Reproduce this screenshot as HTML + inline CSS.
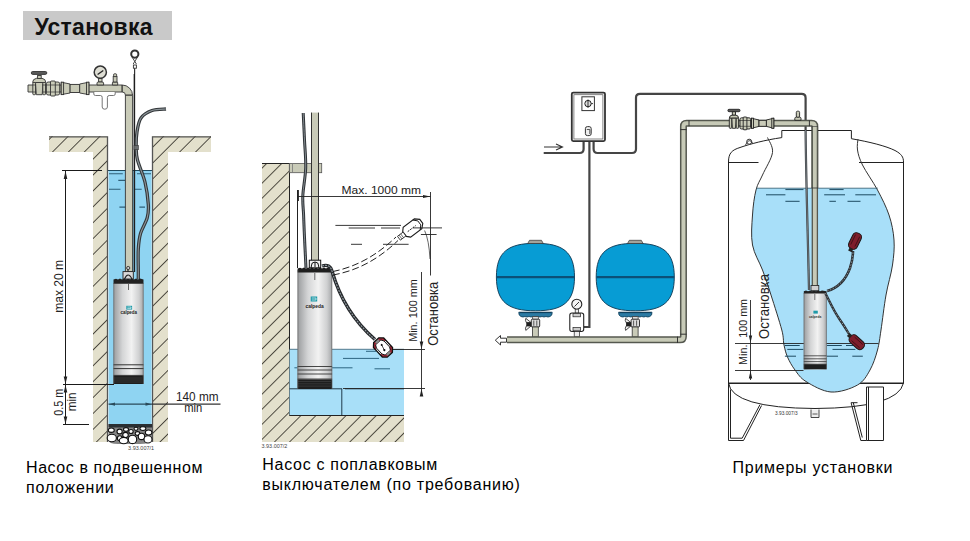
<!DOCTYPE html>
<html><head><meta charset="utf-8">
<style>
html,body{margin:0;padding:0;background:#fff;width:970px;height:541px;overflow:hidden}
svg{position:absolute;left:0;top:0;display:block}
text{font-family:"Liberation Sans",sans-serif}
</style></head>
<body>
<svg width="970" height="541" viewBox="0 0 970 541">
<defs>
  <pattern id="hatch" patternUnits="userSpaceOnUse" width="11.243" height="11.243" patternTransform="rotate(45) translate(9.19,0)">
    <rect width="11.243" height="11.243" fill="#e3e0cc"/>
    <line x1="0" y1="-1" x2="0" y2="13" stroke="#1e1b14" stroke-width="1.5"/>
  </pattern>
  <pattern id="hatch2" patternUnits="userSpaceOnUse" width="10.656" height="10.656" patternTransform="rotate(45) translate(5.3,0)">
    <rect width="10.656" height="10.656" fill="#e3e0cc"/>
    <line x1="0" y1="-1" x2="0" y2="12" stroke="#1e1b14" stroke-width="1.5"/>
  </pattern>
  <linearGradient id="pumpg" x1="0" x2="1" y1="0" y2="0">
    <stop offset="0" stop-color="#9a9c9e"/>
    <stop offset="0.3" stop-color="#d4d5d6"/>
    <stop offset="0.6" stop-color="#f2f2f2"/>
    <stop offset="0.85" stop-color="#cfd0d1"/>
    <stop offset="1" stop-color="#a4a6a8"/>
  </linearGradient>
</defs>

<!-- Title -->
<rect x="23" y="11" width="149" height="29" fill="#c9c9c9"/>
<text x="34.5" y="35" font-size="23" font-weight="bold" fill="#111" textLength="118" lengthAdjust="spacing">Установка</text>

<!-- LEFT DIAGRAM -->
<g id="left">
  <!-- ground -->
  <path d="M49 136H108V442H93V152H49Z" fill="url(#hatch)"/>
  <path d="M152 136H211V152H168V442H152Z" fill="url(#hatch)"/>
  <path d="M49 136.8H107.5V442" fill="none" stroke="#555" stroke-width="1.3"/>
  <path d="M211 136.8H152.5V442" fill="none" stroke="#555" stroke-width="1.3"/>
  <!-- water -->
  <rect x="108.6" y="170" width="43" height="254" fill="#8fd4f2"/>
  <line x1="108" y1="170.5" x2="152" y2="170.5" stroke="#1f4a5e" stroke-width="1"/>
  <g stroke="#2f5f78" stroke-width="1.1">
    <path d="M109 173.8H122.8M137 173.8H151M118.3 180.4H125M109 189.3H120.5M135 189.3H141.7M119.4 207.1H128M139.4 207.1H145"/>
  </g>
  <!-- gravel -->
  <path d="M108.5 424H152V440Q150 444 140 444H118Q108.5 444 108.5 440Z" fill="#858585"/>
  <path d="M108.5 424H152V427.5H108.5Z" fill="#2a2f33"/>
  <g fill="#fff" stroke="#111" stroke-width="1.1">
    <ellipse cx="111.3" cy="430.2" rx="3" ry="2.2"/>
    <ellipse cx="119.6" cy="431.5" rx="2.6" ry="2.4"/>
    <ellipse cx="126" cy="429.4" rx="2.5" ry="1.8"/>
    <ellipse cx="131" cy="431.5" rx="2.2" ry="2"/>
    <ellipse cx="136" cy="428.8" rx="2" ry="1.6"/>
    <ellipse cx="142.9" cy="428.6" rx="3" ry="1.9"/>
    <ellipse cx="148.6" cy="432.5" rx="3.3" ry="2.5"/>
    <ellipse cx="137.5" cy="433.5" rx="2.3" ry="1.9"/>
    <ellipse cx="125.5" cy="435" rx="2.8" ry="2.6"/>
    <ellipse cx="111.8" cy="438" rx="4.6" ry="3.8"/>
    <ellipse cx="119.8" cy="438.3" rx="2.4" ry="2.5"/>
    <ellipse cx="141.5" cy="436.4" rx="3.2" ry="3.2"/>
    <ellipse cx="123.7" cy="440.6" rx="4.4" ry="3.2"/>
    <ellipse cx="132.5" cy="439.4" rx="4.2" ry="4.2"/>
    <ellipse cx="148" cy="439.4" rx="4" ry="3.6"/>
  </g>
  <!-- top pipework -->
  <g stroke="#333" stroke-width="0.9" fill="#c9cbb8">
    <path d="M28 85H122.1A10.5 10.5 0 0 1 132.6 95.5V272H125.4V95Q125.4 92 122.1 92H28Z"/>
    <!-- elbow seam -->
    <path d="M122.1 85V92M125.4 95.2H132.6" fill="none" stroke-width="1.3"/>
    <!-- gate valve -->
    <path d="M32.6 82.5Q32.6 79 36.5 78.3H42Q45.8 79 45.8 82.5Z"/>
    <rect x="37.6" y="75.5" width="3.6" height="3" />
    <rect x="31.3" y="71.5" width="15.5" height="2.9" rx="1.4" fill="#5a5a5a"/>
    <path d="M35.5 82.5H43L42.2 94.7H36.3Z"/>
    <rect x="32.8" y="82.5" width="2.7" height="12.2" rx="0.8"/>
    <rect x="42.8" y="82.5" width="2.7" height="12.2" rx="0.8"/>
    <path d="M32.8 85H35.5M32.8 92H35.5M42.8 85H45.5M42.8 92H45.5" fill="none" stroke-width="0.7"/>
    <!-- union -->
    <rect x="46.4" y="82" width="13.3" height="13" rx="1.8"/>
    <rect x="50.5" y="81" width="4.8" height="15" rx="1"/>
    <path d="M46.4 85H59.7M46.4 92H59.7" fill="none" stroke-width="0.7"/>
    <!-- reducers -->
    <path d="M61.2 82.2L70.1 84V93L61.2 94.6Z"/>
    <rect x="61.2" y="82.2" width="2.4" height="12.4"/>
    <rect x="70.1" y="84.4" width="9.6" height="8.1"/>
    <path d="M79.7 84L88.9 82.2V94.6L79.7 93Z"/>
    <rect x="86.5" y="82.2" width="2.4" height="12.4"/>
    <!-- gauge -->
    <rect x="98.6" y="78.5" width="3.4" height="3.5"/>
    <path d="M97 85V83Q97 82 98.5 82H102Q103.6 82 103.6 83V85Z"/>
    <circle cx="100.3" cy="72.2" r="6.1" fill="#deded4" stroke-width="1.5"/>
    <path d="M97.6 74.6L103.3 70.4" fill="none" stroke="#222" stroke-width="1.2"/>
    <!-- vent -->
    <path d="M112.4 85V82.8Q112.4 82 113.4 82H116.7Q117.7 82 117.7 82.8V85Z"/>
    <rect x="113.2" y="76.5" width="3.8" height="5.5"/>
    <rect x="113.6" y="73.8" width="3" height="2.8" rx="0.8"/>
  </g>
  <!-- T under pipe -->
  <path d="M93.8 92V94Q93.8 95.5 95.5 95.5H100.5Q102.2 95.5 102.2 97.5V107Q102.2 109.2 104.8 109.2Q107.4 109.2 107.4 107V97.5Q107.4 95.5 109.2 95.5H113.5Q115.2 95.5 115.2 94V92" fill="#fff" stroke="#666" stroke-width="0.9"/>
  <!-- rope -->
  <g fill="none" stroke="#333">
    <circle cx="134.8" cy="54.1" r="3.6" stroke-width="2"/>
    <path d="M132 57L136.4 64M137.6 57L133.2 64" stroke-width="0.9"/>
    <rect x="133.4" y="65" width="3" height="3.2" stroke-width="0.9"/>
    <path d="M134.6 68.2V74" stroke-width="1.2"/>
    <path d="M134.4 74V272" stroke-width="1.5" stroke="#1e1e1e"/>
  </g>
  <!-- cable -->
  <path d="M166.0 109.0C163.7 109.2 156.2 109.0 152.0 110.5C147.8 112.0 143.5 114.4 141.0 118.0C138.5 121.6 137.8 127.1 137.0 132.0C136.2 136.9 136.1 142.6 136.2 147.3C136.3 152.0 136.0 154.2 137.5 160.0C139.0 165.8 143.2 174.8 145.0 182.2C146.8 189.6 147.9 198.5 148.3 204.4C148.7 210.3 148.5 213.0 147.2 217.8C145.9 222.6 142.1 228.1 140.6 233.3C139.1 238.5 138.7 242.6 138.3 248.9C137.9 255.2 138.3 266.0 138.3 271.0C138.3 276.0 138.3 277.7 138.3 279.0" fill="none" stroke="#33373a" stroke-width="3.3"/>
  <path d="M166.0 109.0C163.7 109.2 156.2 109.0 152.0 110.5C147.8 112.0 143.5 114.4 141.0 118.0C138.5 121.6 137.8 127.1 137.0 132.0C136.2 136.9 136.1 142.6 136.2 147.3C136.3 152.0 136.0 154.2 137.5 160.0C139.0 165.8 143.2 174.8 145.0 182.2C146.8 189.6 147.9 198.5 148.3 204.4C148.7 210.3 148.5 213.0 147.2 217.8C145.9 222.6 142.1 228.1 140.6 233.3C139.1 238.5 138.7 242.6 138.3 248.9C137.9 255.2 138.3 266.0 138.3 271.0C138.3 276.0 138.3 277.7 138.3 279.0" fill="none" stroke="#8c9498" stroke-width="1.1"/>
  <rect x="134" y="145.5" width="4.4" height="4.2" fill="#6a6e70" stroke="#333" stroke-width="0.6"/>

  <!-- pump -->
  <rect x="113.5" y="283" width="30" height="101" fill="url(#pumpg)"/>
  <path d="M113.5 283V279.5L116 278.8 118 279.5 120 278.6 122 279.5 124 278.6 126 279.5 128 278.6 130 279.5 132 278.6 134 279.5 136 278.6 138 279.5 140 278.6 143.5 279.5V283.8H113.5Z" fill="#222"/>
  <rect x="123" y="271.6" width="10.3" height="7.4" fill="#d8d8d8" stroke="#222" stroke-width="0.9"/>
  <path d="M124.5 279Q128 271 132 279M128 271.5V268" stroke="#222" stroke-width="1.2" fill="none"/>
  <circle cx="128.2" cy="268" r="1.6" fill="#ccc" stroke="#222" stroke-width="0.8"/>
  <line x1="128.5" y1="284" x2="128.5" y2="290" stroke="#666" stroke-width="1"/>
  <rect x="113.5" y="364.5" width="30" height="11" fill="url(#pumpg)"/>
  <path d="M113.5 364.8H143.5M113.5 368.6H143.5M113.5 375.4H143.5" stroke="#333" stroke-width="1"/>
  <rect x="113.5" y="376" width="30" height="8" fill="#1e1e1e"/>
  <path d="M114.5 378H142.5M114.5 380H142.5M114.5 382H142.5" stroke="#666" stroke-width="0.7" stroke-dasharray="1 1"/>
  <path d="M113.8 283V384M143.2 283V384" stroke="#555" stroke-width="0.6"/>
  <rect x="126.3" y="305.8" width="5.8" height="3.8" fill="#1f9aa8"/>
  <path d="M127.3 307H131V308.6H127.3" fill="none" stroke="#fff" stroke-width="0.6"/>
  <text x="120.5" y="314.2" font-size="4.6" font-weight="bold" fill="#222" textLength="16.5" lengthAdjust="spacingAndGlyphs">calpeda</text>
  <!-- dimensions -->
  <g stroke="#1a1a1a" stroke-width="1" fill="none">
    <path d="M65.5 170V424"/>
    <path d="M62 170.5H102M63 384.5H114M63 424.5H89"/>
    <path d="M152 404.2H220.5" stroke="#333" stroke-width="1.2"/>
    <path d="M108.5 404.2H152" stroke="#2a4a5a" stroke-width="1.2"/>
  </g>
  <g fill="#222">
    <path d="M65.5 171L63.7 179H67.3Z"/>
    <path d="M65.5 384L63.7 376.5H67.3Z"/>
    <path d="M65.5 385L63.7 392.5H67.3Z"/>
    <path d="M65.5 424L63.7 416.5H67.3Z"/>
    <path d="M109 404.2L115 402.6V405.8Z" fill="#2a4a5a"/>
    <path d="M151.5 404.2L145.5 402.6V405.8Z" fill="#2a4a5a"/>
  </g>
  <g font-size="12" fill="#222">
    <text transform="translate(63.2,312.8) rotate(-90)" textLength="52.8" lengthAdjust="spacingAndGlyphs">max 20 m</text>
    <text transform="translate(62.5,415.7) rotate(-90)" textLength="27" lengthAdjust="spacingAndGlyphs">0.5 m</text>
    <text transform="translate(75.8,411.3) rotate(-90)" textLength="18.8" lengthAdjust="spacingAndGlyphs">min</text>
    <text x="176" y="400.7" textLength="42.5" lengthAdjust="spacingAndGlyphs">140 mm</text>
    <text x="184.2" y="412.4" textLength="18" lengthAdjust="spacingAndGlyphs">min</text>
  </g>
  <text x="128.1" y="449.6" font-size="5" fill="#444" textLength="26" lengthAdjust="spacingAndGlyphs">3.93.007/1</text>
</g>

<!-- MIDDLE DIAGRAM -->
<g id="mid">
  <!-- wall & floor -->
  <path d="M262 163H289V415H404V442H262Z" fill="url(#hatch2)"/>
  <path d="M262 163.5H289.5V415.5H404" fill="none" stroke="#222" stroke-width="1"/>
  <!-- water -->
  <rect x="289.5" y="349.5" width="114.5" height="65.5" fill="#a8dff8"/>
  <path d="M289.5 349.3H404" stroke="#3d6a82" stroke-width="0.9"/>
  <path d="M289.5 388.8H342M345 388.8H404M341.8 388.8V415" stroke="#1e3a4a" stroke-width="1" fill="none"/>
  <g stroke="#2d6480" stroke-width="1" fill="none">
    <path d="M343 358.4H379M294.4 367.8H352.5M374.5 368.8H390M366 351.3H376"/>
  </g>
  <!-- bracket -->
  <rect x="289.3" y="163.4" width="32.4" height="9.3" fill="#c9cbb8" stroke="#555" stroke-width="0.8"/>
  <line x1="292.5" y1="163.4" x2="292.5" y2="172.7" stroke="#777" stroke-width="0.8"/>
  <!-- pipe -->
  <rect x="311" y="112.6" width="7.8" height="149" fill="#c9cbb8"/>
  <path d="M311.5 112.6V261.6M318.5 112.6V261.6" stroke="#333" stroke-width="1"/>
  <!-- cable -->
  <path d="M303.2 113.0C303.4 117.5 304.1 130.8 304.5 140.0C304.9 149.2 306.0 158.7 305.7 168.0C305.4 177.3 303.1 188.2 302.8 196.0C302.5 203.8 303.4 209.2 303.6 215.0C303.8 220.8 303.9 223.0 304.2 230.8C304.5 238.6 305.4 255.8 305.7 262.0C306.0 268.2 305.9 267.0 306.0 268.0" fill="none" stroke="#2e3236" stroke-width="3"/>
  <path d="M303.2 113.0C303.4 117.5 304.1 130.8 304.5 140.0C304.9 149.2 306.0 158.7 305.7 168.0C305.4 177.3 303.1 188.2 302.8 196.0C302.5 203.8 303.4 209.2 303.6 215.0C303.8 220.8 303.9 223.0 304.2 230.8C304.5 238.6 305.4 255.8 305.7 262.0C306.0 268.2 305.9 267.0 306.0 268.0" fill="none" stroke="#8c9498" stroke-width="0.9"/>
  <!-- thin vertical extension -->
  <path d="M297.5 190V268" stroke="#222" stroke-width="1"/>
  <!-- pump -->
  <rect x="297.6" y="270" width="34.5" height="119" fill="url(#pumpg)"/>
  <path d="M297.6 272.4V268.4L300 267.7 302 268.4 304 267.6 306 268.4 308 267.6 310 268.4 312 267.6 314 268.4 316 267.6 318 268.4 320 267.6 322 268.4 324 267.6 326 268.4 328 267.6 332.1 268.4V272.4H297.6Z" fill="#1e1e1e"/>
  <rect x="309.3" y="260.2" width="11.4" height="7.6" fill="#f2f2f2" stroke="#111" stroke-width="1"/>
  <path d="M311.3 267.8V266Q311.3 262 315 262Q318.7 262 318.7 266V267.8M315 262V267" stroke="#111" stroke-width="1" fill="none"/>
  <line x1="314.8" y1="273" x2="314.8" y2="280" stroke="#666" stroke-width="1"/>
  <rect x="297.6" y="366" width="34.5" height="13.5" fill="url(#pumpg)"/>
  <path d="M297.6 366.5H332.1M297.6 370H332.1M297.6 374H332.1M297.6 379H332.1" stroke="#333" stroke-width="0.9"/>
  <rect x="297.6" y="379.4" width="34.5" height="9.6" fill="#1e1e1e"/>
  <path d="M298.5 381.5H331M298.5 383.8H331M298.5 386.1H331" stroke="#666" stroke-width="0.7" stroke-dasharray="1 1"/>
  <path d="M297.9 270V389M331.8 270V389" stroke="#555" stroke-width="0.6"/>
  <rect x="310.7" y="296.5" width="6.5" height="5" fill="#1f9aa8"/>
  <path d="M311.8 298H316V300H311.8" fill="none" stroke="#fff" stroke-width="0.6"/>
  <text x="305.5" y="307.8" font-size="5.2" font-weight="bold" fill="#222" textLength="18.2" lengthAdjust="spacingAndGlyphs">calpeda</text>
  <!-- float cable (lower) -->
  <path d="M322 266C328 264 331 267 332 271C338 292 350 318 375 339.5" fill="none" stroke="#25282b" stroke-width="3.4"/>
  <path d="M322 266C328 264 331 267 332 271C338 292 350 318 375 339.5" fill="none" stroke="#8d969c" stroke-width="1.2" stroke-dasharray="2 1"/>
  <!-- lower float -->
  <g transform="translate(383,347.5) rotate(47)">
    <path d="M-10 -3.5L-6.5 -7H6.5L10 -3.5V3.5L6.5 7H-6.5L-10 3.5Z" fill="#fff"/>
    <path d="M-10 -3.5L-6.5 -7H-2.5L-10 0.5ZM10 -3.5L6.5 -7H2.5L10 0.5ZM-10 3.5L-6.5 7H-2.5L-10 -0.5ZM10 3.5L6.5 7H2.5L10 -0.5Z" fill="#a82838"/>
    <rect x="-10" y="-2.2" width="2.6" height="4.4" fill="#8a8a8a"/>
    <rect x="7.4" y="-2.2" width="2.6" height="4.4" fill="#8a8a8a"/>
    <path d="M-10 -3.5L-6.5 -7H6.5L10 -3.5V3.5L6.5 7H-6.5L-10 3.5Z" fill="none" stroke="#111" stroke-width="1.3"/>
    <path d="M-7 -3.6L-4 -5.2H4L7 -3.6V3.6L4 5.2H-4L-7 3.6Z" fill="#fff" stroke="#111" stroke-width="0.9"/>
    <circle cx="-2.8" cy="-0.8" r="1" fill="#111"/><circle cx="2.8" cy="0.8" r="1.1" fill="#111"/>
    <path d="M-2.8 -0.8L2.8 0.8" stroke="#111" stroke-width="0.7"/>
  </g>
  <!-- dashed upper float path -->
  <g fill="none" stroke="#222" stroke-width="1" stroke-dasharray="7 3">
    <path d="M333 271.5C350 268 372 260 396 237"/>
    <path d="M333 275C352 271.5 374 263.5 398 240.5"/>
  </g>
  <g transform="translate(412.5,228) rotate(-37)">
    <path d="M-10 -3L-7 -6.2H7L11 -2.5V2.5L7 6.2H-7L-10 3Z" fill="#fff" stroke="#1a1a1a" stroke-width="1.1"/>
    <path d="M5 -6.2L8.5 -2.5V2.5L5 6.2" fill="none" stroke="#1a1a1a" stroke-width="0.9"/>
    <path d="M-6 0H4" stroke="#1a1a1a" stroke-width="0.9" stroke-dasharray="2 1"/>
    <path d="M-17 -2.4H-10V2.4H-17Z" fill="#fff" stroke="#222" stroke-width="0.8"/>
    <path d="M-15 -2.4V2.4M-13 -2.4V2.4" stroke="#222" stroke-width="0.6"/>
  </g>
  <!-- upper water lines -->
  <g stroke="#222" stroke-width="0.9" fill="none">
    <path d="M335.4 225.4H401"/>
    <path d="M348.7 228H375M381 228H400M413 227.9H442M420.9 234.5H436.6M351 244.3H362M383 244.3H408.6"/>
  </g>
  <!-- dimension Max 1000 -->
  <g stroke="#222" stroke-width="0.9" fill="none">
    <path d="M298 196.5H430.5M298.5 190V201M430.5 192V275.5"/>
    <path d="M424.6 230.5Q429 240 430 259" stroke-width="0.7"/>
    <path d="M421.5 272V392"/>
    <path d="M393 349.5H425M343 388.5H425"/>
  </g>
  <path d="M430.5 196.5L423 194.9V198.1Z" fill="#222"/>
  <path d="M421.5 349L419.7 341.5H423.3Z" fill="#222"/>
  <path d="M421.5 389L419.7 396.5H423.3Z" fill="#222"/>
  <text x="341.6" y="193.7" font-size="11" fill="#222" textLength="79.4" lengthAdjust="spacingAndGlyphs">Max. 1000 mm</text>
  <text transform="translate(417,341.8) rotate(-90)" font-size="11" fill="#222" textLength="62.5" lengthAdjust="spacingAndGlyphs">Min. 100 mm</text>
  <text transform="translate(437.5,345.8) rotate(-90)" font-size="14" fill="#222" textLength="64" lengthAdjust="spacingAndGlyphs">Остановка</text>
  <text x="261.6" y="447.8" font-size="5" fill="#444" textLength="25.6" lengthAdjust="spacingAndGlyphs">3.93.007/2</text>
</g>

<!-- RIGHT DIAGRAM -->
<g id="right">
  <!-- control box -->
  <rect x="571.8" y="92.6" width="33.2" height="48.5" rx="1.5" fill="#fff" stroke="#333" stroke-width="1.8"/>
  <rect x="573.9" y="94.7" width="29" height="44.3" fill="none" stroke="#666" stroke-width="0.8"/>
  <rect x="581.9" y="96.8" width="12.5" height="13.8" fill="#fff" stroke="#333" stroke-width="1"/>
  <circle cx="588" cy="103.6" r="3.2" fill="#ddd" stroke="#222" stroke-width="1"/>
  <path d="M588 99.5V107.8M591.2 103.6H593" stroke="#222" stroke-width="0.9"/>
  <rect x="585.4" y="126.6" width="5.8" height="9" rx="2" fill="#eee" stroke="#333" stroke-width="1"/>
  <path d="M586.8 129.5H589.8V134" fill="none" stroke="#333" stroke-width="0.8"/>
  <!-- cables -->
  <g fill="none" stroke="#454545" stroke-width="2.2">
    <path d="M583.6 142V149Q583.6 153 579.6 153H543.7"/>
    <path d="M589.4 142V327H584"/>
    <path d="M593.6 142V149Q593.6 153 597.6 153H632Q636 153 636 149V97.8Q636 93.9 640 93.9H801.6Q805.6 93.9 805.6 97.9V130"/>
  </g>
  <path d="M544 147H562.5M556 144L562.5 147L556 150" fill="none" stroke="#333" stroke-width="1.1"/>

  <!-- tanks -->
  <g id="tank1">
    <path d="M496.4 277C496.4 252 508 243.3 535.5 243.3C563 243.3 574.5 252 574.5 277C574.5 302 563 310.8 535.5 310.8C508 310.8 496.4 302 496.4 277Z" fill="#079cd4" stroke="#0d3550" stroke-width="0.9"/>
    <path d="M496.6 277.1H574.3" stroke="#0b5078" stroke-width="2.4"/>
    <path d="M527.7 243.5L529.5 240.3H541.5L543.3 243.5Z" fill="#a4a49c" stroke="#333" stroke-width="0.7"/>
    <path d="M518.8 312.2H552.2Q552.5 315.5 550 316.5Q548 317.5 546 316.5Q544 317.5 542 316.5Q540 317.5 538 316.5H533Q531 317.5 529 316.5Q527 317.5 525 316.5Q523 317.5 521 316.5Q518.5 315.5 518.8 312.2Z" fill="#2b7aa3" stroke="#123e58" stroke-width="0.8"/>
    <path d="M519.5 312.6H551.5" stroke="#0d3d5a" stroke-width="1"/>
    <rect x="532.7" y="316.7" width="5.6" height="2.6" fill="#e6e6e6" stroke="#333" stroke-width="0.7"/>
    <rect x="531.3" y="319.2" width="8.4" height="7.8" rx="1" fill="#dcdcdc" stroke="#222" stroke-width="0.9"/>
    <path d="M533.8 320.5V325.8M536.8 320.5V325.8" stroke="#333" stroke-width="0.8"/>
    <rect x="532.4" y="327" width="5.9" height="10" fill="#c9cbb8" stroke="#333" stroke-width="0.8"/>
    <path d="M531 322.5L525.8 318.3Q524.8 320.5 526.5 322.8ZM531 326L525.8 330.4Q524.8 328.2 526.5 325.8Z" fill="#eee" stroke="#222" stroke-width="0.8"/>
    <rect x="526.3" y="322.3" width="5" height="3.8" fill="#1e1e1e"/>
  </g>
  <use href="#tank1" transform="translate(99.8,0)"/>
  <!-- gauge -->
  <circle cx="576.8" cy="304.2" r="5" fill="#f4f4f4" stroke="#222" stroke-width="1.1"/>
  <path d="M574.5 306.5L579 302" stroke="#222" stroke-width="0.9"/>
  <rect x="575.2" y="309.2" width="3.2" height="4" fill="#eee" stroke="#222" stroke-width="0.7"/>
  <rect x="569.8" y="313" width="13.9" height="18.5" rx="2.2" fill="#fff" stroke="#222" stroke-width="1.1"/>
  <rect x="573" y="313.5" width="7.5" height="3.3" fill="#ccc" stroke="#222" stroke-width="0.7"/>
  <rect x="573" y="327.5" width="7.5" height="3.3" fill="#ccc" stroke="#222" stroke-width="0.7"/>
  <rect x="574.2" y="331.5" width="5.2" height="5.3" fill="#eee" stroke="#222" stroke-width="0.7"/>
  <!-- pipes -->
  <path d="M507 339.75H680.15Q683.45 339.75 683.45 336.45V126.45Q683.45 123.25 686.65 123.25H811.55Q814.85 123.25 814.85 126.55V286" fill="none" stroke="#55584f" stroke-width="7"/>
  <path d="M507 339.75H680.15Q683.45 339.75 683.45 336.45V126.45Q683.45 123.25 686.65 123.25H811.55Q814.85 123.25 814.85 126.55V286" fill="none" stroke="#c7cab7" stroke-width="4"/>
  <path d="M680.3 334.2H686.6M677.5 336.6V343M680.3 129.6H686.6M689 120.3V126.2M811.5 126.9H818M809.4 120.3V126.2" fill="none" stroke="#333" stroke-width="1"/>
  <path d="M495.3 340.2L500.5 335.5V338.2H506.5V342.2H500.5V345Z" fill="#fff" stroke="#333" stroke-width="1"/>
  <!-- pipe fittings top -->
  <g stroke="#222" stroke-width="0.9" fill="#c9cbb8">
    <path d="M729.3 118.2Q729.3 115.3 732.5 115H735.5Q738.6 115.3 738.6 118.2Z"/>
    <rect x="732.3" y="111.6" width="3.2" height="3.4"/>
    <rect x="727.9" y="109.3" width="12.1" height="2.4" rx="1.1" fill="#5a5a5a"/>
    <path d="M731.7 118.2H736.2L735.6 128.3H732.3Z"/>
    <rect x="729.3" y="118.2" width="2.4" height="10.1" rx="0.7"/>
    <rect x="736.2" y="118.2" width="2.4" height="10.1" rx="0.7"/>
    <rect x="740" y="117.8" width="10.6" height="11.2" rx="1.5"/>
    <rect x="743.2" y="117" width="3.7" height="12.8" rx="0.8"/>
    <path d="M740 120.5H750.6M740 126.3H750.6" fill="none" stroke-width="0.6"/>
    <path d="M751.5 118.2L759 120V126.4L751.5 128.3Z"/>
    <rect x="751.5" y="118.2" width="2" height="10.1"/>
    <rect x="759" y="120.3" width="7.4" height="6"/>
    <path d="M766.4 120L773.8 118.2V128.3L766.4 126.4Z"/>
    <rect x="771.8" y="118.2" width="2" height="10.1"/>
    <path d="M794.8 120.3V118.5Q794.8 117 796.5 117H799.3Q801 117 801 118.5V120.3Z"/>
    <rect x="796.3" y="111.2" width="3.3" height="6" rx="1.2"/>
  </g>
  <!-- big tank -->
  <g fill="none" stroke="#222" stroke-width="1">
    <path d="M728.5 383V162C728.5 153 732 150 740 147.5C750 144 765 140 781.8 137.6V130.5H851.4V138.7C870 142 886 146 895 150.5C901.5 154 903.5 157 903.5 162V383"/>
    <path d="M728.5 383Q732 408 815 408.5Q898 408 903.5 383Z" fill="#fff"/>
    <path d="M728.5 162.5H758.5M859 162.5H903.5M728.5 383.5H903.5"/>
    <path d="M728.5 383V440.5H743.5L761.6 405.5M730.5 389.5V438.2H742.2L759.9 404.8"/>
    <path d="M866.5 387V440.5H883.5V387Z" fill="#fff"/>
    <path d="M868.5 387V440.5M851.1 402.7L860.8 440.5H866.5M853.3 402.7L862.3 437.5M851.1 402.7H857.5"/>
  </g>
  <circle cx="749.2" cy="141.7" r="2.5" fill="#fff" stroke="#333" stroke-width="1"/>
  <path d="M745.5 145Q749 137 753 143.5" fill="none" stroke="#333" stroke-width="0.9"/>
  <path d="M811 409.5V417.5H819V409.5" fill="#eee" stroke="#333" stroke-width="0.9"/>
  <path d="M812.5 414H817.5" stroke="#333" stroke-width="0.8"/>
  <!-- blob above water (outline) & water -->
  <clipPath id="wclip"><rect x="700" y="188" width="220" height="220"/></clipPath>
  <path d="M767.5 137.5C768.3 140.0 773.3 146.2 772.5 152.5C771.7 158.8 765.2 168.8 762.5 175.0C759.8 181.2 757.7 183.3 756.0 190.0C754.3 196.7 753.1 205.8 752.5 215.0C751.9 224.2 750.8 235.8 752.5 245.0C754.2 254.2 759.4 261.7 762.5 270.0C765.6 278.3 767.8 285.0 771.0 295.0C774.2 305.0 779.6 321.7 781.8 330.0C784.0 338.3 783.0 340.5 784.0 345.0C785.0 349.5 785.7 352.8 787.5 357.0C789.3 361.2 791.9 365.9 795.0 370.0C798.1 374.1 800.0 377.8 806.0 381.5C812.0 385.2 822.4 391.4 831.0 392.0C839.6 392.6 851.0 388.7 857.5 385.0C864.0 381.3 866.7 375.8 870.0 370.0C873.3 364.2 875.7 356.7 877.5 350.0C879.3 343.3 879.6 339.2 881.0 330.0C882.4 320.8 884.1 305.8 886.0 295.0C887.9 284.2 891.2 274.2 892.5 265.0C893.8 255.8 894.6 248.3 894.0 240.0C893.4 231.7 891.8 223.3 889.0 215.0C886.2 206.7 881.9 198.3 877.5 190.0C873.1 181.7 865.8 171.7 862.5 165.0C859.2 158.3 858.2 154.3 857.5 150.0C856.8 145.7 857.9 140.8 858.0 139.0" fill="#a8dff9" clip-path="url(#wclip)"/>
  <path d="M767.5 137.5C768.3 140.0 773.3 146.2 772.5 152.5C771.7 158.8 765.2 168.8 762.5 175.0C759.8 181.2 757.7 183.3 756.0 190.0C754.3 196.7 753.1 205.8 752.5 215.0C751.9 224.2 750.8 235.8 752.5 245.0C754.2 254.2 759.4 261.7 762.5 270.0C765.6 278.3 767.8 285.0 771.0 295.0C774.2 305.0 779.6 321.7 781.8 330.0C784.0 338.3 783.0 340.5 784.0 345.0C785.0 349.5 785.7 352.8 787.5 357.0C789.3 361.2 791.9 365.9 795.0 370.0C798.1 374.1 800.0 377.8 806.0 381.5C812.0 385.2 822.4 391.4 831.0 392.0C839.6 392.6 851.0 388.7 857.5 385.0C864.0 381.3 866.7 375.8 870.0 370.0C873.3 364.2 875.7 356.7 877.5 350.0C879.3 343.3 879.6 339.2 881.0 330.0C882.4 320.8 884.1 305.8 886.0 295.0C887.9 284.2 891.2 274.2 892.5 265.0C893.8 255.8 894.6 248.3 894.0 240.0C893.4 231.7 891.8 223.3 889.0 215.0C886.2 206.7 881.9 198.3 877.5 190.0C873.1 181.7 865.8 171.7 862.5 165.0C859.2 158.3 858.2 154.3 857.5 150.0C856.8 145.7 857.9 140.8 858.0 139.0" fill="none" stroke="#333" stroke-width="1"/>
  <path d="M756.3 188.2H877.8" stroke="#3a5a6a" stroke-width="0.8"/>
  <g stroke="#1d4a62" stroke-width="1" fill="none">
    <path d="M785.4 189.6H803.5M829.4 189.6H843.6M766 194.8H785.4M824.2 194.8H845M855.3 194.8H876M785.4 201.3H799.6M829.4 201.3H835.9M847.5 201.3H860.5"/>
    <path d="M784.9 345.5H799.7M827 345.5H841.8M846 345.5H857M787.3 349.4H803.4M832.5 349.4H855.4M784.9 356.2H796M827 356.2H838M852.3 356.2H862.8"/>
  </g>
  <g stroke="#222" stroke-width="0.9" fill="none">
    <path d="M735 343.5H878.6M735 370.5H803.5M750.5 300V380"/>
  </g>
  <!-- pump pipe & cable in tank -->
  <path d="M814.85 127V286" fill="none" stroke="#55584f" stroke-width="6.4"/>
  <path d="M814.85 127V286" fill="none" stroke="#c7cab7" stroke-width="3.8"/>
  <path d="M811.7 188H818" stroke="#333" stroke-width="0.8"/>
  <path d="M805.6 130C806 180 808 240 809 290" fill="none" stroke="#3a3e42" stroke-width="2.2"/>
  <path d="M805.6 130C806 180 808 240 809 290" fill="none" stroke="#8c9498" stroke-width="0.7"/>
  <!-- pump -->
  <rect x="803.8" y="293" width="22.8" height="76.5" fill="url(#pumpg)"/>
  <path d="M803.8 293.5V291.2L806 290.5 808 291.2 810 290.5 812 291.2 814 290.5 816 291.2 818 290.5 820 291.2 822 290.5 826.6 291.2V293.5H803.8Z" fill="#222"/>
  <rect x="811" y="285.5" width="7.8" height="5.2" fill="#d0d0d0" stroke="#222" stroke-width="0.8"/>
  <line x1="814.8" y1="294" x2="814.8" y2="300" stroke="#666" stroke-width="0.9"/>
  <path d="M803.8 355.8H826.6M803.8 358.8H826.6M803.8 361.6H826.6M803.8 364.2H826.6" stroke="#333" stroke-width="0.8"/>
  <rect x="803.8" y="364.3" width="22.8" height="5" fill="#1e1e1e"/>
  <path d="M804 293V369M826.4 293V369" stroke="#555" stroke-width="0.6"/>
  <rect x="813.4" y="310.7" width="4.4" height="2.9" fill="#1f9aa8"/>
  <text x="809" y="317.7" font-size="3.8" font-weight="bold" fill="#333" textLength="12.3" lengthAdjust="spacingAndGlyphs">calpeda</text>
  <!-- upper float & cable -->
  <path d="M827 291C838 288 846 279 850 268C852 262 853 256 853 251" fill="none" stroke="#2e3236" stroke-width="2.6"/>
  <path d="M827 291C838 288 846 279 850 268C852 262 853 256 853 251" fill="none" stroke="#8d969c" stroke-width="0.9" stroke-dasharray="1.5 1.5"/>
  <g transform="translate(855,241) rotate(-64)">
    <rect x="-8.5" y="-4.6" width="17" height="9.2" rx="4" fill="#7e1d2b" stroke="#1a1a1a" stroke-width="1"/>
    <path d="M-5 -2.3H6M-5 2.3H6" stroke="#3a0d14" stroke-width="0.8"/>
    <rect x="-11.5" y="-2" width="3.4" height="4" fill="#222"/>
  </g>
  <!-- lower float & cable -->
  <path d="M825.5 293.5C829 300 833 310 839.9 319.7C843 324 846 329 849 334" fill="none" stroke="#2e3236" stroke-width="2.4"/>
  <path d="M825.5 293.5C829 300 833 310 839.9 319.7C843 324 846 329 849 334" fill="none" stroke="#9aa2a8" stroke-width="1" stroke-dasharray="1.2 2.2"/>
  <g transform="translate(856.8,342.2) rotate(42)">
    <rect x="-8.5" y="-4.6" width="17" height="9.2" rx="4" fill="#7e1d2b" stroke="#1a1a1a" stroke-width="1"/>
    <path d="M-5 -2.3H6M-5 2.3H6" stroke="#3a0d14" stroke-width="0.8"/>
    <rect x="-11.5" y="-2" width="3.4" height="4" fill="#222"/>
  </g>
  <!-- dims -->
  <path d="M750.5 342.6L748.8 335.5H752.2Z" fill="#222"/>
  <path d="M750.5 371L748.8 378.5H752.2Z" fill="#222"/>
  <text transform="translate(746.5,337.7) rotate(-90)" font-size="11" fill="#222" textLength="38.7" lengthAdjust="spacingAndGlyphs">100 mm</text>
  <text transform="translate(746.5,365) rotate(-90)" font-size="11" fill="#222" textLength="20.4" lengthAdjust="spacingAndGlyphs">Min.</text>
  <text transform="translate(768.5,339) rotate(-90)" font-size="14" fill="#222" textLength="65" lengthAdjust="spacingAndGlyphs">Остановка</text>
  <text x="775" y="414.5" font-size="4.8" fill="#333">3.93.007/3</text>
</g>

<!-- Captions -->
<g font-size="16" fill="#000">
  <text x="26" y="472.8" textLength="176.4" lengthAdjust="spacing">Насос в подвешенном</text>
  <text x="26" y="492.6" textLength="87.8" lengthAdjust="spacing">положении</text>
  <text x="262.3" y="469.6" textLength="175" lengthAdjust="spacing">Насос с поплавковым</text>
  <text x="262.3" y="490.4" textLength="257.5" lengthAdjust="spacing">выключателем (по требованию)</text>
  <text x="732.5" y="473.2" textLength="160" lengthAdjust="spacing">Примеры установки</text>
</g>
</svg>
</body></html>
